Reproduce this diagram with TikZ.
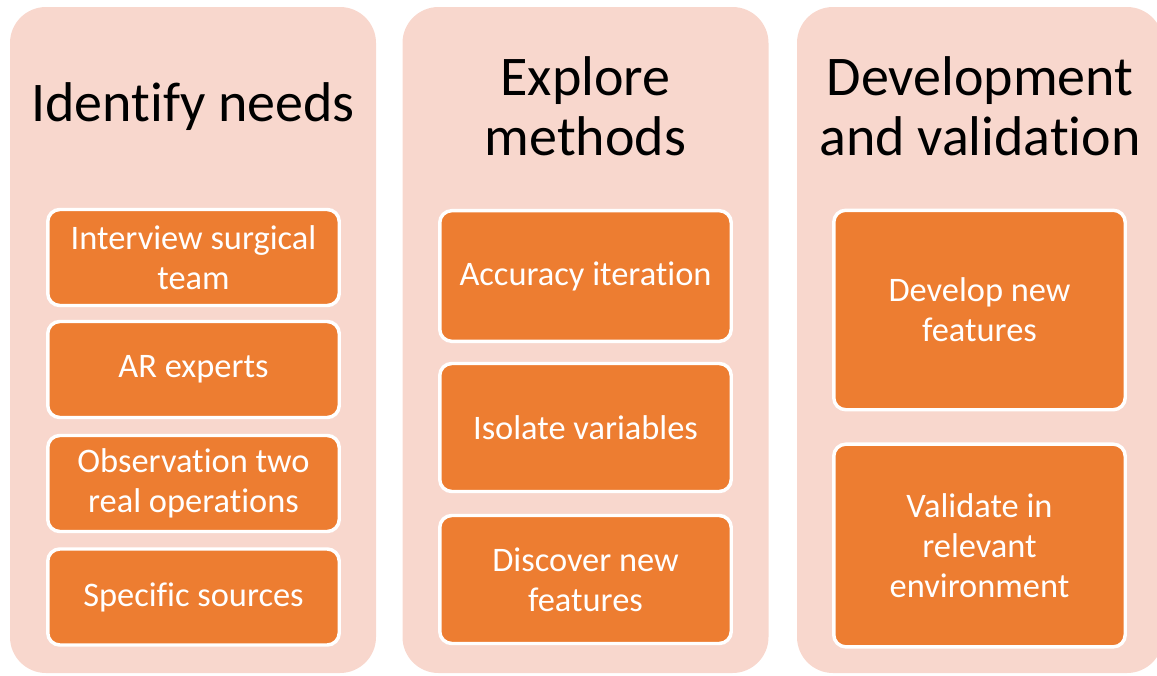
\documentclass[tikz,border=0pt]{standalone}
\usepackage{fontspec}
\setmainfont{Carlito}[Ligatures={NoCommon,NoContextual}]
\newcommand\nlti{t\kern0pt i}
\newcommand\nlfi{f\kern0pt i}
\definecolor{pinkbg}{HTML}{F8D7CD}
\definecolor{orangebox}{HTML}{ED7D31}
\begin{document}
\begin{tikzpicture}[x=0.75pt,y=-0.75pt,
  colbox/.style={fill=pinkbg, draw=none, rounded corners=27pt, minimum width=274.5pt, minimum height=499.5pt, inner sep=0pt},
  title/.style={align=center, font=\fontsize{42pt}{45pt}\selectfont, text=black, inner sep=0pt},
  item/.style={fill=orangebox, draw=white, line width=2.6pt, rounded corners=9pt, minimum width=218.6pt, align=center, text=white, inner sep=0pt, font=\fontsize{25.8pt}{30pt}\selectfont}]
\useasboundingbox (0,0) rectangle (1157,675);
% columns
\node[colbox] (c1) at (193,340) {};
\node[colbox] (c2) at (585.5,340) {};
\node[colbox] (c3) at (980,340) {};
% titles
\node[title] (t1) at (193,107) {Iden\nlti fy needs};
\node[title] (t2) at (585.5,106) {Explore\\methods};
\node[title] (t3) at (980,106) {Development\\and valida\nlti on};
% column 1
\node[item, minimum height=72pt] (a1) at (193.5,257.5) {Interview surgical\\team};
\node[item, minimum height=72pt] (a2) at (193.5,369.5) {AR experts};
\node[item, minimum height=72pt] (a3) at (193.5,483.5) {Observa\nlti on two\\real opera\nlti ons};
\node[item, minimum height=72pt] (a4) at (193.5,597) {Speci\nlfi c sources};
% column 2
\node[item, minimum height=98pt] (b1) at (585.5,276) {Accuracy itera\nlti on};
\node[item, minimum height=96pt] (b2) at (585.5,427.5) {Isolate variables};
\node[item, minimum height=96pt] (b3) at (585.5,579.5) {Discover new\\features};
% column 3
\node[item, minimum height=149.6pt] (d1) at (979.5,310) {Develop new\\features};
\node[item, minimum height=152pt] (d2) at (979.5,545.5) {Validate in\\relevant\\environment};
\end{tikzpicture}
\end{document}
